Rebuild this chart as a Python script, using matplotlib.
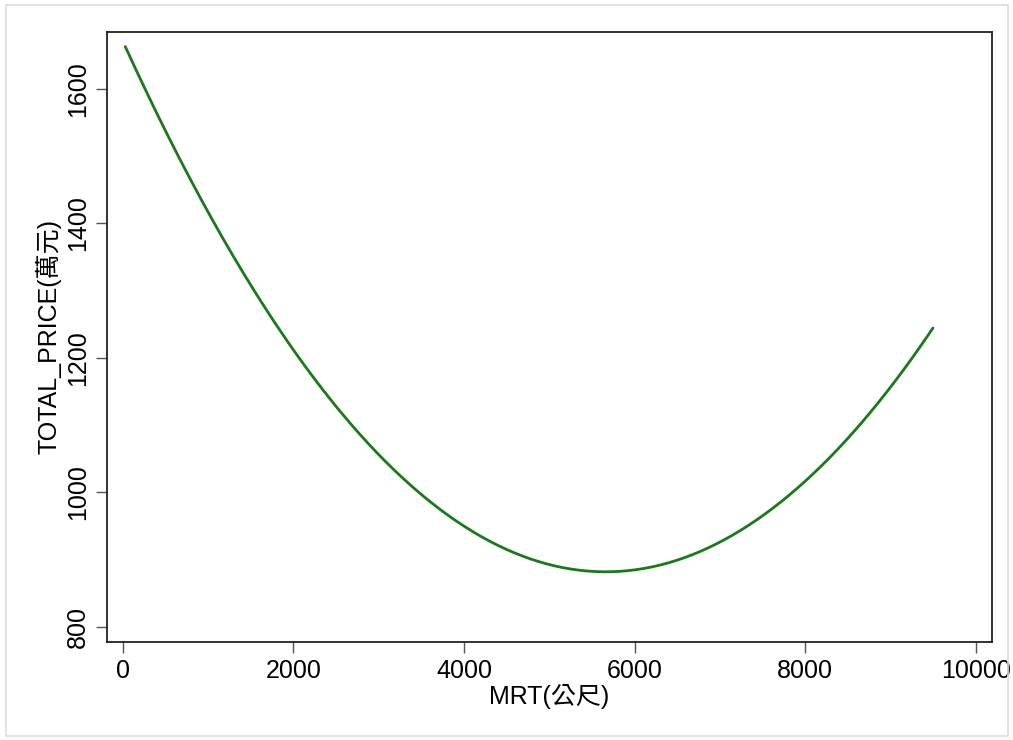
import matplotlib.pyplot as plt
import matplotlib.patches as patches
import numpy as np

# points (Stata qfit: quadratic prediction)
mrt = [30, 1102, 1492, 2450, 3251, 3641, 4033, 4423, 4814, 5205, 5596,
       6182, 6572, 6964, 7354, 7745, 8136, 8527, 8722, 9113, 9499]
price = [1662, 1393, 1313, 1138, 1027, 983.6, 946.4, 914.1, 894.3, 885.4, 881.8,
         889.3, 901.8, 924.1, 952.8, 991.0, 1035.7, 1082.7, 1115, 1174.5, 1240.4]

xticks = [0, 2000, 4000, 6000, 8000, 10000]
yticks = [800, 1000, 1200, 1400, 1600]

fonts = ['Liberation Sans', 'Noto Sans CJK TC', 'DejaVu Sans']
plt.rcParams['font.family'] = fonts

# quadratic fit of the read points, like the original qfit line
coef = np.polyfit(mrt, price, 2)
xs = np.linspace(min(mrt), max(mrt), 300)
ys = np.polyval(coef, xs)

fig = plt.figure(figsize=(10.13, 7.40), dpi=100)
ax = fig.add_axes([107/1013, 1 - 642/740, (992 - 107)/1013, (642 - 32)/740])

ax.plot(xs, ys, color='#1a7a1a', lw=2.0, solid_capstyle='round')

ax.set_xlim(-184, 10191)
ax.set_ylim(777, 1685)
ax.set_xticks(xticks)
ax.set_yticks(yticks)
ax.tick_params(axis='both', length=8, width=1, color='#555555', labelsize=18)
ax.tick_params(axis='x', pad=4)
ax.tick_params(axis='y', pad=4)
for lab in ax.get_yticklabels():
    lab.set_rotation(90)
    lab.set_va('center')

for s in ax.spines.values():
    s.set_color('#222222')
    s.set_linewidth(1.3)

ax.set_xlabel('MRT(公尺)', fontsize=18, labelpad=1)
ax.set_ylabel('TOTAL_PRICE(萬元)', fontsize=18, labelpad=3.5)

# light frame around the whole graph
fig.patches.append(patches.Rectangle((6/1013, 4/740), 1002/1013, 731/740,
                                     transform=fig.transFigure, fill=False,
                                     edgecolor='#dddddd', lw=1.2))

fig.savefig('out.png', dpi=100)
